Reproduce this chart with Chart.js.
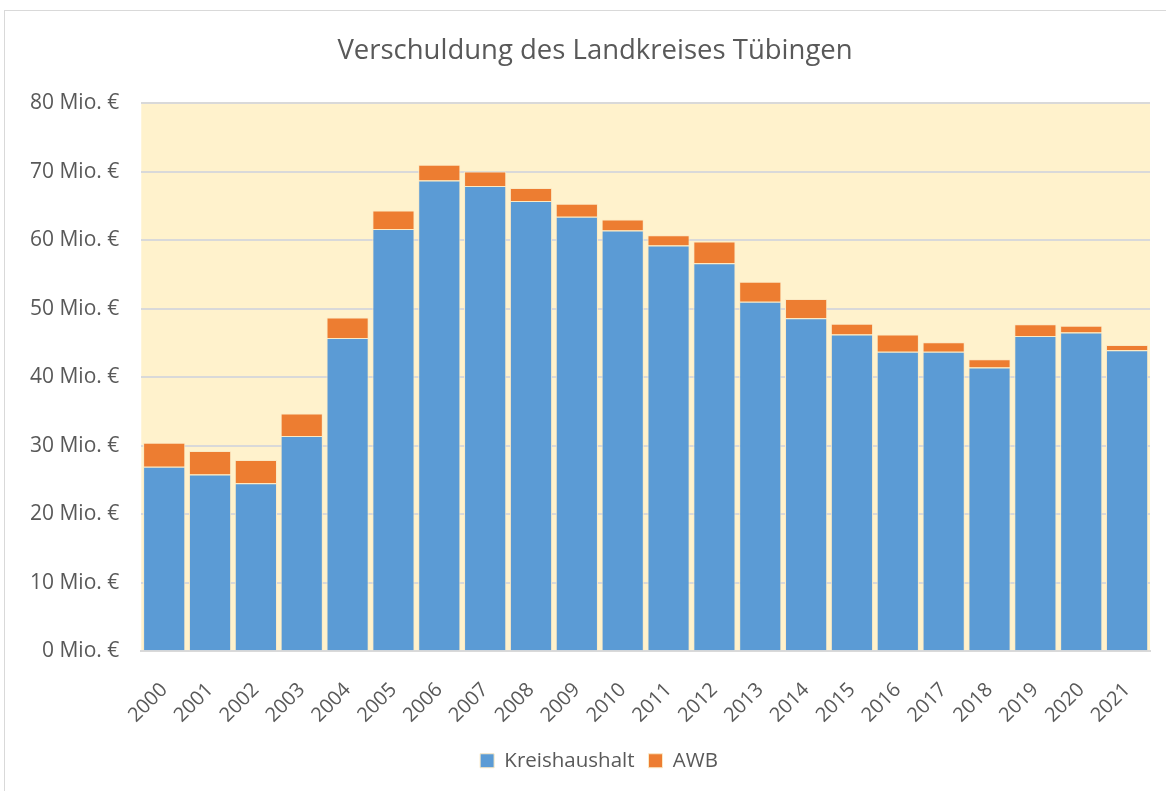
<!DOCTYPE html>
<html>
<head>
<meta charset="utf-8">
<script src="https://cdn.jsdelivr.net/npm/chart.js@4/dist/chart.umd.min.js"></script>
<style>
body { margin: 0; background: #fff; }
.chart-container { position: absolute; left: 4px; top: 10px; width: 1161px; height: 780px; border: 1px solid #d9d9d9; background: #fff; }
</style>
</head>
<body>
<div class="chart-container"><canvas id="verschuldung"></canvas></div>
<script>
// Jahre
const jahre = ['2000','2001','2002','2003','2004','2005','2006','2007','2008','2009','2010',
	'2011','2012','2013','2014','2015','2016','2017','2018','2019','2020','2021'];
// Mio. Euro
const kreishaushalt = [26.9, 25.8, 24.5, 31.4, 45.7, 61.6, 68.7, 67.9, 65.7, 63.4, 61.4,
	59.2, 56.6, 51.0, 48.6, 46.2, 43.7, 43.7, 41.4, 46.0, 46.5, 43.9];
const awb = [3.5, 3.4, 3.4, 3.3, 3.0, 2.7, 2.3, 2.1, 1.9, 1.9, 1.6,
	1.5, 3.2, 2.9, 2.8, 1.6, 2.5, 1.4, 1.2, 1.7, 1.0, 0.8];
const yTicks = [0, 10, 20, 30, 40, 50, 60, 70, 80];

const textColor = '#595959';
const fontName = '"Open Sans", "Noto Sans", sans-serif';

// hintergrund der zeichenflaeche
const plotBackground = {
	id: 'plotBackground',
	beforeDraw(chart) {
		const a = chart.chartArea;
		const ctx = chart.ctx;
		ctx.save();
		ctx.fillStyle = '#FFF2CC';
		ctx.fillRect(a.left, a.top, a.right - a.left, a.bottom - a.top);
		ctx.restore();
	}
};

// titel und legende etwas nach rechts (wie im excel-diagramm)
const shiftBoxes = {
	id: 'shiftBoxes',
	afterLayout(chart) {
		if (chart.titleBlock) {
			chart.titleBlock.left += 16;
			chart.titleBlock.right += 16;
		}
		if (chart.legend) {
			chart.legend.left += 20;
			chart.legend.right += 20;
		}
	}
};

var chart_settings = {
	type: 'bar',
	data: {
		labels: jahre,
		datasets: [{
			label: 'Kreishaushalt',
			data: kreishaushalt,
			backgroundColor: '#5B9BD5',
			borderColor: '#FBE9C4',
			borderWidth: 1,
			categoryPercentage: 0.92,
			barPercentage: 1.0
		}, {
			label: 'AWB',
			data: awb,
			backgroundColor: '#ED7D31',
			borderColor: '#FBE9C4',
			borderWidth: 1,
			categoryPercentage: 0.92,
			barPercentage: 1.0
		}]
	},
	options: {
		responsive: true,
		maintainAspectRatio: false,
		animation: false,
		layout: { padding: { left: 3, right: 16, top: 0, bottom: 10 } },
		plugins: {
			title: {
				display: true,
				text: 'Verschuldung des Landkreises Tübingen',
				color: textColor,
				font: { family: fontName, size: 27.5, weight: 'normal' },
				padding: { top: 24, bottom: 35 }
			},
			legend: {
				position: 'bottom',
				labels: {
					color: textColor,
					font: { family: fontName, size: 20.5 },
					boxWidth: 14,
					boxHeight: 14,
					padding: 14
				}
			},
			tooltip: { enabled: false }
		},
		scales: {
			x: {
				stacked: true,
				grid: { display: false },
				border: { display: true, color: '#D9D9D9', width: 2 },
				ticks: {
					color: textColor,
					font: { family: fontName, size: 20 },
					minRotation: 45,
					maxRotation: 45,
					padding: 19
				},
				afterFit(axis) {
					axis.height -= 10;
				}
			},
			y: {
				stacked: true,
				min: 0,
				max: 80,
				afterBuildTicks(axis) {
					axis.ticks = yTicks.map(v => ({ value: v }));
				},
				grid: { color: '#D9D9D9', lineWidth: 2, drawTicks: false },
				border: { display: false },
				ticks: {
					color: textColor,
					font: { family: fontName, size: 21 },
					padding: 22,
					callback: v => v + ' Mio. €'
				}
			}
		}
	},
	plugins: [plotBackground, shiftBoxes]
};

new Chart(document.getElementById('verschuldung'), chart_settings);
</script>
</body>
</html>
